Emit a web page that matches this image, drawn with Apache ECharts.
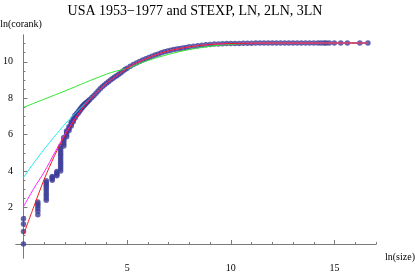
<!DOCTYPE html>
<html>
<head>
<meta charset="utf-8">
<script src="https://cdn.jsdelivr.net/npm/echarts@6/dist/echarts.min.js"></script>
<style>
html,body{margin:0;padding:0;background:#fff;}
#c{width:415px;height:273px;}
</style>
</head>
<body>
<div id="c"></div>
<script>
// ---- data ----
const titleText = 'USA 1953\u22121977 and STEXP, LN, 2LN, 3LN';
const xName = 'ln(size)';
const yName = 'ln(corank)';
const xMajorTicks = [5, 10, 15];
const xMinorTicks = [1,2,3,4,6,7,8,9,11,12,13,14,16,17];
const yMajorTicks = [2, 4, 6, 8, 10];
const yMinorTicks = [0.5,1,1.5,2.5,3,3.5,4.5,5,5.5,6.5,7,7.5,8.5,9,9.5,10.5,11];

// observed points: [ln(size), ln(corank)]
const observed = [
  [0,0],[0,0.69],[0,1.10],[0,1.39],
  [0.693,1.61],[0.693,1.79],[0.693,1.95],[0.693,2.08],[0.693,2.2],[0.693,2.3],
  [1.099,2.4],[1.099,2.53],[1.099,2.66],[1.099,2.79],[1.099,2.92],[1.099,3.05],[1.099,3.17],[1.099,3.28],[1.099,3.38],[1.099,3.47],
  [1.386,3.5],[1.386,3.58],[1.386,3.65],[1.386,3.71],
  [1.609,3.74],[1.609,3.82],[1.609,3.9],[1.609,3.98],
  [1.792,4.01],[1.792,4.13],[1.792,4.25],[1.792,4.37],[1.792,4.49],[1.792,4.61],[1.792,4.73],[1.792,4.85],[1.792,4.97],[1.792,5.09],[1.792,5.21],[1.792,5.35],
  [1.946,5.38],[1.946,5.5],[1.946,5.62],[1.946,5.74],[1.946,5.85],
  [2.079,5.88],[2.079,5.99],[2.079,6.1],[2.079,6.2],
  [2.197,6.23],[2.197,6.34],[2.197,6.44],
  [2.303,6.47],[2.303,6.58],[2.303,6.68],
  [2.398,6.71],[2.398,6.8],[2.398,6.89],
  [2.485,6.91],[2.485,6.99],[2.485,7.06],
  [2.565,7.08],[2.565,7.16],[2.639,7.18],[2.639,7.27],[2.708,7.29],[2.708,7.37],
  [2.773,7.39],[2.773,7.46],[2.833,7.48],[2.833,7.54],[2.890,7.56],[2.890,7.61],
  [2.944,7.63],[2.944,7.67],[2.996,7.69],[2.996,7.73],[3.045,7.76],[3.091,7.81],[3.135,7.86],
  [3.2,7.93],[3.3,8.04],[3.4,8.15],[3.5,8.27],[3.6,8.4],[3.7,8.52],[3.8,8.63],[3.9,8.73],
  [4.0,8.82],[4.1,8.91],[4.2,9.0],[4.3,9.08],[4.4,9.16],[4.5,9.24],[4.6,9.32],[4.7,9.4],[4.8,9.49],[4.9,9.57],
  [5.0,9.65],[5.15,9.75],[5.3,9.85],[5.45,9.94],[5.6,10.02],[5.75,10.1],[5.9,10.17],
  [6.05,10.24],[6.2,10.31],[6.35,10.37],[6.5,10.43],[6.65,10.49],[6.8,10.55],[6.95,10.59],
  [7.1,10.63],[7.25,10.67],[7.4,10.7],[7.55,10.73],[7.7,10.76],[7.85,10.79],
  [8.0,10.82],[8.2,10.85],[8.4,10.88],[8.6,10.91],[8.8,10.93],[9.0,10.95],[9.2,10.97],[9.4,10.98],[9.6,10.99],[9.8,11.0],
  [10.0,11.0],[10.2,11.01],[10.4,11.01],[10.6,11.02],[10.8,11.02],[11.0,11.02],[11.2,11.03],[11.4,11.03],[11.6,11.03],[11.8,11.03],
  [12.0,11.03],[12.2,11.03],[12.4,11.03],[12.6,11.03],[12.8,11.03],[13.0,11.03],[13.2,11.03],[13.4,11.03],
  [13.6,11.03],[13.8,11.03],[14.0,11.03],[14.2,11.03],[14.35,11.03],[14.5,11.03],[14.6,11.03],
  [14.75,11.03],[14.99,11.03],[15.3,11.03],[15.62,11.03],[16.22,11.03],[16.61,11.03]
];

// fitted curves, sampled at fitX
const fitX   = [0, 0.5, 1, 1.5, 2, 2.5, 3, 3.5, 4, 4.5, 5, 5.5, 6, 6.5, 7, 7.5, 8, 9, 10, 11, 12, 14, 16.61];
const stexpY = [7.5, 7.72, 7.95, 8.17, 8.4, 8.63, 8.87, 9.1, 9.32, 9.5, 9.63, 9.86, 10.07, 10.25, 10.41, 10.55, 10.67, 10.85, 10.96, 11.01, 11.03, 11.03, 11.03];
const lnY    = [3.65, 4.45, 5.2, 5.9, 6.58, 7.18, 7.74, 8.28, 8.82, 9.24, 9.65, 9.96, 10.21, 10.43, 10.6, 10.72, 10.82, 10.95, 11.0, 11.02, 11.03, 11.03, 11.03];
const ln2Y   = [2.05, 3.05, 3.95, 5.0, 6.02, 6.9, 7.68, 8.27, 8.82, 9.24, 9.65, 9.96, 10.21, 10.43, 10.6, 10.72, 10.82, 10.95, 11.0, 11.02, 11.03, 11.03, 11.03];
const ln3Y   = [0.5, 2.05, 3.55, 4.85, 5.95, 6.86, 7.68, 8.27, 8.82, 9.24, 9.65, 9.96, 10.21, 10.43, 10.6, 10.72, 10.82, 10.95, 11.0, 11.02, 11.03, 11.03, 11.03];

const fitColors = ['#33e633', '#22eeee', '#ff22ff', '#ee1c1c'];
const fitNames = ['STEXP', 'LN', '2LN', '3LN'];
const fitYs = [stexpY, lnY, ln2Y, ln3Y];

// ---- chart ----
const chart = echarts.init(document.getElementById('c'), null, {renderer: 'canvas'});
const serif = 'Liberation Serif, Times New Roman, serif';
const axisColor = '#7a7a7a';
const X_MIN = -0.36, X_MAX = 17, Y_MIN = -0.77, Y_MAX = 11.47;

function xAxisDef(major) {
  return {
    type: 'value', min: X_MIN, max: X_MAX, position: 'bottom',
    axisLine: {show: true, onZero: true, lineStyle: {color: axisColor, width: 1}},
    axisTick: {show: true, inside: true, length: major ? 4 : 2,
      customValues: major ? xMajorTicks : xMinorTicks, lineStyle: {color: axisColor}},
    axisLabel: {show: major, customValues: xMajorTicks, margin: 5,
      fontFamily: serif, fontSize: 10, color: '#000'},
    splitLine: {show: false}
  };
}
function yAxisDef(major) {
  return {
    type: 'value', min: Y_MIN, max: Y_MAX, position: 'left',
    axisLine: {show: true, onZero: true, lineStyle: {color: axisColor, width: 1}},
    axisTick: {show: true, inside: true, length: major ? 4 : 2,
      customValues: major ? yMajorTicks : yMinorTicks, lineStyle: {color: axisColor}},
    axisLabel: {show: major, customValues: yMajorTicks, margin: 3,
      fontFamily: serif, fontSize: 10, color: '#000'},
    splitLine: {show: false}
  };
}

const series = [{
  type: 'scatter', name: 'data', data: observed,
  xAxisIndex: 0, yAxisIndex: 0,
  symbol: 'circle', symbolSize: 5.5,
  itemStyle: {color: '#3d3d99'},
  clip: false, silent: true, z: 2
}];
fitYs.forEach((ys, i) => {
  series.push({
    type: 'line', name: fitNames[i],
    data: fitX.map((x, j) => [x, ys[j]]),
    xAxisIndex: 0, yAxisIndex: 0,
    smooth: 0.3, showSymbol: false, symbol: 'none',
    lineStyle: {color: fitColors[i], width: 1},
    silent: true, z: 3 + i, animation: false
  });
});

chart.setOption({
  animation: false,
  backgroundColor: '#fff',
  grid: {left: 14, right: 39, top: 35, bottom: 1, containLabel: false},
  xAxis: [xAxisDef(true), xAxisDef(false)],
  yAxis: [yAxisDef(true), yAxisDef(false)],
  graphic: [{
    type: 'text', x: 195, y: 11,
    style: {text: titleText, fontFamily: serif, fontSize: 14, fill: '#000',
      textAlign: 'center', textVerticalAlign: 'middle'}
  }, {
    type: 'text', x: 21, y: 24,
    style: {text: yName, fontFamily: serif, fontSize: 10, fill: '#000',
      textAlign: 'center', textVerticalAlign: 'middle'}
  }, {
    type: 'text', x: 385, y: 257,
    style: {text: xName, fontFamily: serif, fontSize: 10, fill: '#000',
      textAlign: 'left', textVerticalAlign: 'middle'}
  }],
  series: series
});
</script>
</body>
</html>
